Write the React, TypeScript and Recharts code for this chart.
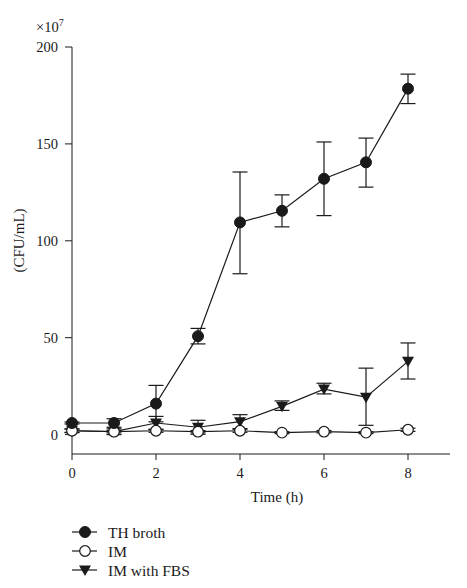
import React from 'react';
import { LineChart, Line, XAxis, YAxis, ErrorBar } from 'recharts';

const hours = [0, 1, 2, 3, 4, 5, 6, 7, 8];
const thBroth = [6, 6, 16, 50.8, 109.5, 115.5, 132, 140.5, 178.5];
const thErr = [[0.5, 0.5], [2.2, 2.2], [9.4, 9.4], [4, 4], [26.5, 26], [8.3, 8.2], [19, 19], [12.8, 12.5], [7.7, 7.5]];
const im = [2, 1.5, 2, 1.5, 2, 1, 1.5, 1, 2.5];
const imErr = [[0.8, 0.8], [0.6, 0.6], [0.8, 0.8], [0.6, 0.6], [0.8, 0.8], [0.5, 0.5], [0.6, 0.6], [0.5, 0.5], [0.8, 0.8]];
const imFbs = [2, 1.5, 6, 3.8, 6.7, 14.6, 23.5, 19.3, 37.8];
const fbsErr = [[1, 1], [1.5, 1.5], [3.4, 3.4], [3.6, 3.6], [3.6, 3.6], [2.1, 2.8], [2.5, 3], [14.5, 15], [9.1, 9.5]];

const xTicks = [0, 2, 4, 6, 8];
const yTicks = [0, 50, 100, 150, 200];
const legendItems = ['TH broth', 'IM', 'IM with FBS'];

const data = hours.map((h, i) => ({
  hour: h,
  th: thBroth[i],
  thErr: thErr[i],
  im: im[i],
  imErr: imErr[i],
  fbs: imFbs[i],
  fbsErr: fbsErr[i],
}));

const INK = '#1a1a1a';
const FONT = '"Liberation Serif", "DejaVu Serif", serif';

const FilledDot = (p: any) => <circle key={p.key} cx={p.cx} cy={p.cy} r={5.5} fill={INK} stroke={INK} strokeWidth={1} />;
const OpenDot = (p: any) => <circle key={p.key} cx={p.cx} cy={p.cy} r={5.3} fill="#fff" stroke={INK} strokeWidth={1.2} />;
const TriDot = (p: any) => (
  <path key={p.key} d={`M${p.cx - 6},${p.cy - 4.5}L${p.cx + 6},${p.cy - 4.5}L${p.cx},${p.cy + 6}Z`} fill={INK} />
);

const markers = [FilledDot, OpenDot, TriDot];

// y title and the x10^7 multiplier sit left/above the axis
const YLabel = ({ viewBox }: any) => {
  const { x, y, height } = viewBox;
  const cy = y + height / 2 - 10;
  return (
    <g fontFamily={FONT} fill={INK}>
      <text x={x + 7} y={cy} textAnchor="middle" dominantBaseline="central" fontSize={15} transform={`rotate(-90, ${x + 7}, ${cy})`}>
        (CFU/mL)
      </text>
      <text x={x + 24} y={y - 15} fontSize={14.5}>
        ×10<tspan dy={-6} fontSize={10}>7</tspan>
      </text>
    </g>
  );
};

const XLabel = ({ viewBox }: any) => {
  const { x, y, width } = viewBox;
  return (
    <text x={x + width / 2 + 16} y={y + 48} textAnchor="middle" fontFamily={FONT} fontSize={15} fill={INK}>
      Time (h)
    </text>
  );
};

export default function App() {
  return (
    <div style={{ position: 'absolute', left: 0, top: 0, width: 467, height: 588, background: '#fff' }}>
      <LineChart width={467} height={588} data={data} margin={{ top: 47, right: 17, bottom: 104, left: 12 }}>
        <XAxis
          dataKey="hour"
          type="number"
          domain={[0, 9]}
          ticks={xTicks}
          height={30}
          tickSize={6}
          tickMargin={8}
          stroke={INK}
          tick={{ fill: INK, fontSize: 14.5, fontFamily: FONT }}
          label={<XLabel />}
        />
        <YAxis
          type="number"
          domain={[-10, 200]}
          ticks={yTicks}
          width={60}
          tickSize={7}
          tickMargin={7}
          stroke={INK}
          tick={{ fill: INK, fontSize: 14.5, fontFamily: FONT }}
          label={<YLabel />}
        />
        <Line dataKey="fbs" stroke={INK} strokeWidth={1.2} dot={TriDot} isAnimationActive={false}>
          <ErrorBar dataKey="fbsErr" direction="y" width={7.5} stroke={INK} strokeWidth={1.2} />
        </Line>
        <Line dataKey="im" stroke={INK} strokeWidth={1.2} dot={OpenDot} isAnimationActive={false}>
          <ErrorBar dataKey="imErr" direction="y" width={7.5} stroke={INK} strokeWidth={1.2} />
        </Line>
        <Line dataKey="th" stroke={INK} strokeWidth={1.2} dot={FilledDot} isAnimationActive={false}>
          <ErrorBar dataKey="thErr" direction="y" width={7.5} stroke={INK} strokeWidth={1.2} />
        </Line>
      </LineChart>
      <svg width={220} height={70} style={{ position: 'absolute', left: 0, top: 518 }}>
        {legendItems.map((name, i) => {
          const cy = 14 + i * 19;
          const M = markers[i];
          return (
            <g key={name}>
              <line x1={72} x2={97} y1={cy} y2={cy} stroke={INK} strokeWidth={1.2} />
              <M cx={85} cy={cy} />
              <text x={108} y={cy} dominantBaseline="central" fontFamily={FONT} fontSize={15.5} fill={INK}>
                {name}
              </text>
            </g>
          );
        })}
      </svg>
    </div>
  );
}
